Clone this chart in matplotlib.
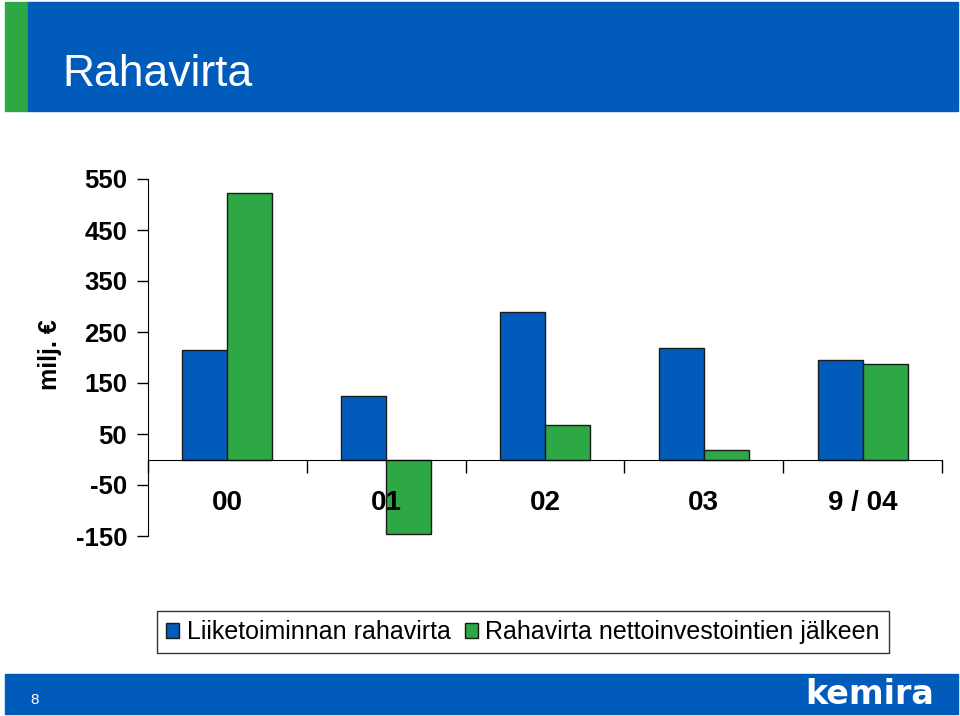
import numpy as np
import matplotlib
matplotlib.use('Agg')
import matplotlib.pyplot as plt
from matplotlib.patches import Rectangle

# data
categories = ['00', '01', '02', '03', '9 / 04']
operating_cf = [214, 125, 289, 218, 195]
cf_after_inv = [522, -147, 67, 18, 188]
yticks = [-150, -50, 50, 150, 250, 350, 450, 550]
series_names = ['Liiketoiminnan rahavirta', 'Rahavirta nettoinvestointien jälkeen']

BLUE = '#005BBB'
GREEN = '#2EA844'

plt.rcParams['font.family'] = ['Liberation Sans', 'DejaVu Sans']

W, H = 960, 716
fig = plt.figure(figsize=(W / 100, H / 100), dpi=100)


def fig_rect(x0, y0, x1, y1, color):
    """Rectangle given in pixel coords (origin top-left)"""
    fig.patches.append(Rectangle((x0 / W, 1 - y1 / H), (x1 - x0) / W, (y1 - y0) / H,
                                 transform=fig.transFigure, color=color, zorder=0))


# header and footer bands
fig_rect(5, 2, 28, 111, GREEN)
fig_rect(28, 2, 958, 111, BLUE)
fig_rect(5, 674, 958, 714, BLUE)
fig.text(62 / W, 1 - 74 / H, 'Rahavirta', color='white', fontsize=32, va='center', ha='left')
fig.text(35 / W, 1 - 700 / H, '8', color='white', fontsize=11, va='center', ha='center')
fig.text(870 / W, 1 - 694 / H, 'kemira', color='white', fontsize=24, fontweight='bold',
         family='DejaVu Sans', va='center', ha='center')

# chart
ax = fig.add_axes([148 / W, 1 - 536 / H, 794 / W, 357 / H])
x = np.arange(len(categories))
bw = 0.283
ax.bar(x - bw / 2, operating_cf, bw, color=BLUE, edgecolor='#1a1a1a', linewidth=1,
       label=series_names[0], zorder=2)
ax.bar(x + bw / 2, cf_after_inv, bw, color=GREEN, edgecolor='#1a1a1a', linewidth=1,
       label=series_names[1], zorder=2)
ax.set_axisbelow(False)

ax.set_xlim(-0.5, len(categories) - 0.5)
ax.set_ylim(-150, 550)
ax.set_yticks(yticks)
ax.set_yticklabels([str(v) for v in yticks], fontsize=18.5, fontweight='bold')
ax.tick_params(axis='y', length=8, width=1, pad=7, direction='out')

ax.spines['top'].set_visible(False)
ax.spines['right'].set_visible(False)
ax.spines['bottom'].set_position(('data', 0))
ax.spines['bottom'].set_zorder(3)

ax.set_xticks(x)
ax.set_xticklabels(categories, fontsize=20, fontweight='bold')
ax.set_xticks(np.arange(-0.5, len(categories)), minor=True)
ax.tick_params(axis='x', which='major', length=0, pad=22)
ax.tick_params(axis='x', which='minor', length=9, width=1, direction='out')

fig.text(50 / W, 1 - 355 / H, 'milj. €', rotation=90, fontsize=18, fontweight='bold',
         va='center', ha='center')

leg = fig.legend(loc='center', bbox_to_anchor=(523 / W, 1 - 632 / H), ncol=2,
                 fontsize=18, frameon=True, fancybox=False, edgecolor='black',
                 handlelength=0.53, handleheight=0.53, handletextpad=0.3,
                 columnspacing=0.55, borderpad=0.35, borderaxespad=0)
leg.get_frame().set_linewidth(1)

fig.savefig('out.png', dpi=100)
